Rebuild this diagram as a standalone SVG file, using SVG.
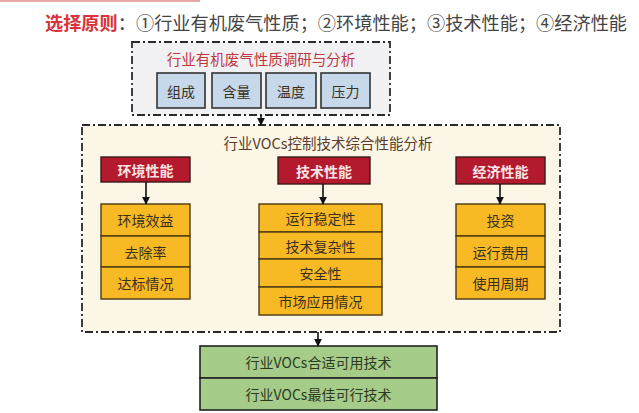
<svg xmlns="http://www.w3.org/2000/svg" width="639" height="413" viewBox="0 0 639 413">
<defs>
<style>
text{font-family:"Noto Sans CJK SC","Noto Sans",sans-serif;text-anchor:middle;dominant-baseline:central}
.dash{fill:#fbf6e6;stroke:#2a2a2a;stroke-width:1.8;stroke-dasharray:8 3 2 3}
.blue{fill:#c6d8ea;stroke:#333;stroke-width:1.6}
.red{fill:#b41a2e;stroke:#3a1a1a;stroke-width:1.4}
.yel{fill:#f7b924;stroke:#4a3a10;stroke-width:1.4}
.grn{fill:#a6cc8a;stroke:#222;stroke-width:1.6}
.t{font-size:14px;fill:#3a3020}
.h{font-size:14px;fill:#fbe4e4;font-weight:bold}
.c{stroke:#111;stroke-width:1.6;fill:none;marker-end:url(#ah)}
</style>
<marker id="ah" viewBox="0 0 10 10" refX="9" refY="5" markerWidth="5" markerHeight="5" orient="auto"><path d="M0,0 L10,5 L0,10 z" fill="#111"/></marker>
</defs>
<rect width="639" height="413" fill="#ffffff"/>
<rect x="0" y="0" width="200" height="2" fill="#e7a7a7"/>
<text x="336" y="22" style="font-size:18.2px;fill:#444"><tspan fill="#d8323c" font-weight="bold">选择原则</tspan>：①行业有机废气性质；②环境性能；③技术性能；④经济性能</text>

<g id="survey">
<rect class="dash" x="132" y="42" width="258" height="73" style="fill:#f1f1f3"/>
<text x="261" y="58" style="font-size:14.5px;fill:#c0353e">行业有机废气性质调研与分析</text>
</g>
<g id="zucheng"><rect class="blue" x="157" y="73" width="48" height="35"/><text class="t" x="181" y="90.5">组成</text></g>
<g id="hanliang"><rect class="blue" x="212" y="73" width="49" height="35"/><text class="t" x="236.5" y="90.5">含量</text></g>
<g id="wendu"><rect class="blue" x="266" y="73" width="50" height="35"/><text class="t" x="291" y="90.5">温度</text></g>
<g id="yali"><rect class="blue" x="321" y="73" width="49" height="35"/><text class="t" x="345.5" y="90.5">压力</text></g>

<g id="analysis">
<rect class="dash" x="82" y="125" width="478" height="207"/>
<text x="328" y="142" style="font-size:14.5px;fill:#5a3a2a">行业VOCs控制技术综合性能分析</text>
</g>

<g id="env"><rect class="red" x="101" y="157" width="89" height="25"/><text class="h" x="145.5" y="169.5">环境性能</text></g>
<g id="tech"><rect class="red" x="278" y="157" width="92" height="27"/><text class="h" x="324" y="170.5">技术性能</text></g>
<g id="econ"><rect class="red" x="456" y="157" width="89" height="27"/><text class="h" x="500.5" y="170.5">经济性能</text></g>

<g id="env-items">
<rect class="yel" x="101" y="204" width="89" height="32"/><text class="t" x="145.5" y="220">环境效益</text>
<rect class="yel" x="101" y="236" width="89" height="31"/><text class="t" x="145.5" y="251.5">去除率</text>
<rect class="yel" x="101" y="267" width="89" height="32"/><text class="t" x="145.5" y="283">达标情况</text>
</g>
<g id="tech-items">
<rect class="yel" x="259" y="204" width="123" height="28"/><text class="t" x="320.5" y="218">运行稳定性</text>
<rect class="yel" x="259" y="232" width="123" height="27"/><text class="t" x="320.5" y="245.5">技术复杂性</text>
<rect class="yel" x="259" y="259" width="123" height="28"/><text class="t" x="320.5" y="273">安全性</text>
<rect class="yel" x="259" y="287" width="123" height="28"/><text class="t" x="320.5" y="301">市场应用情况</text>
</g>
<g id="econ-items">
<rect class="yel" x="456" y="204" width="89" height="32"/><text class="t" x="500.5" y="220">投资</text>
<rect class="yel" x="456" y="236" width="89" height="31"/><text class="t" x="500.5" y="251.5">运行费用</text>
<rect class="yel" x="456" y="267" width="89" height="32"/><text class="t" x="500.5" y="283">使用周期</text>
</g>

<g id="result">
<rect class="grn" x="200" y="346" width="237" height="32"/><text class="t" x="318.5" y="362" style="fill:#2a3a20">行业VOCs合适可用技术</text>
<rect class="grn" x="200" y="378" width="237" height="32"/><text class="t" x="318.5" y="394" style="fill:#2a3a20">行业VOCs最佳可行技术</text>
</g>

<g id="connectors">
<path class="c" d="M261,115 V125"/>
<path class="c" d="M146,182 V204"/>
<path class="c" d="M323,184 V204"/>
<path class="c" d="M500,184 V204"/>
<path class="c" d="M318,332 V346"/>
</g>
</svg>
